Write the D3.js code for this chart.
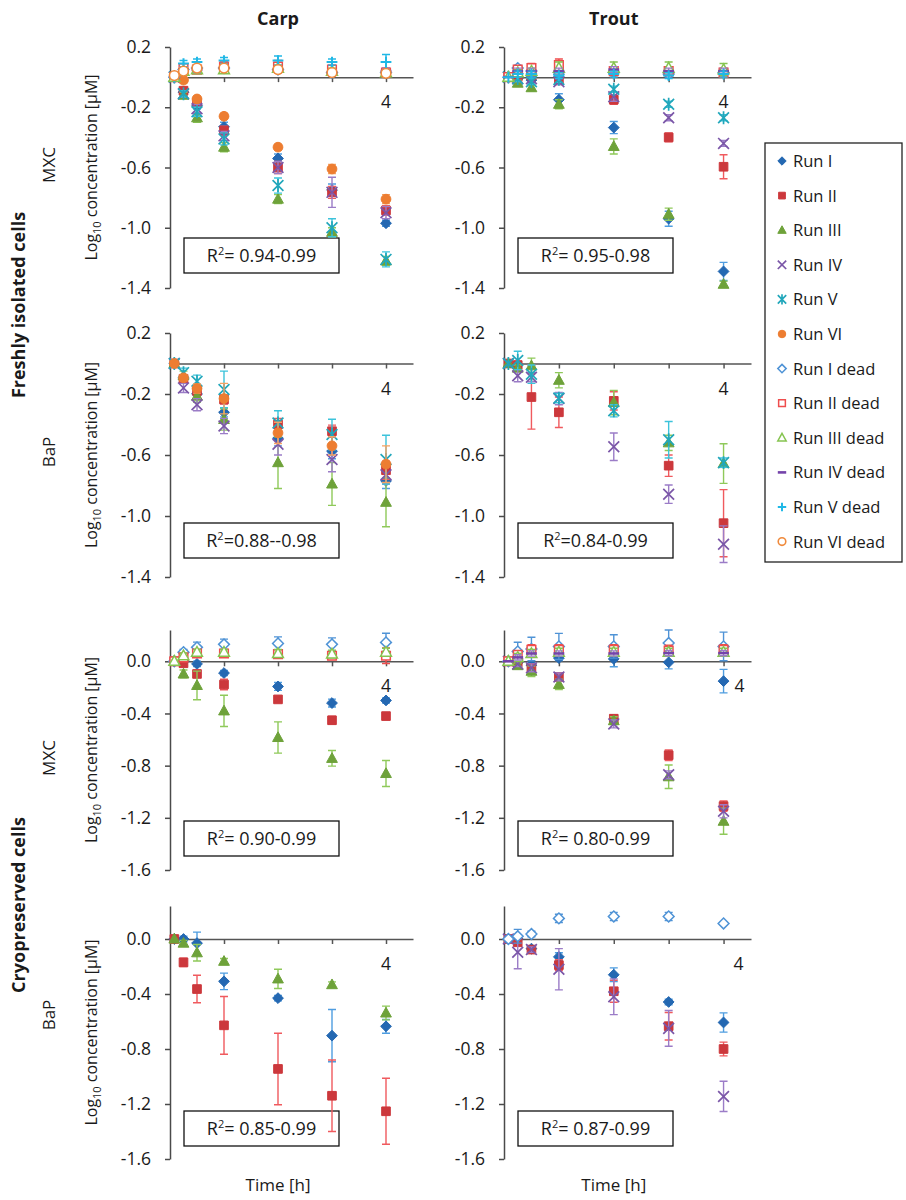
<!DOCTYPE html>
<html><head><meta charset="utf-8">
<script src="https://cdn.jsdelivr.net/npm/d3@7"></script>
<style>
body{margin:0;background:#fff;}
text{font-family:"Open Sans","DejaVu Sans",sans-serif;fill:#1a1a1a;}
</style>
</head><body>
<svg id="chart" width="906" height="1200"></svg>
<script>
// ---------------- DATA ----------------
const times = [0.08, 0.25, 0.5, 1, 2, 3, 4];
const runNames = ["Run I","Run II","Run III","Run IV","Run V","Run VI",
  "Run I dead","Run II dead","Run III dead","Run IV dead","Run V dead","Run VI dead"];
const speciesNames = ["Carp","Trout"];
const compoundNames = ["MXC","BaP","MXC","BaP"];
const cellGroups = ["Freshly isolated cells","Cryopreserved cells"];
const yTicksFresh = [0.2,-0.2,-0.6,-1.0,-1.4];
const yTicksCryo = [0.0,-0.4,-0.8,-1.2,-1.6];
const xTicks = [1,2,3,4];
const lastTimeLabel = "4";
const r2Text = [["= 0.94-0.99","= 0.95-0.98"],["=0.88--0.98","=0.84-0.99"],
                ["= 0.90-0.99","= 0.80-0.99"],["= 0.85-0.99","= 0.87-0.99"]];

// Carp, MXC, freshly isolated
const carpMxcFreshMean = {
  "Run I":[0,-0.10,-0.19,-0.33,-0.54,-0.75,-0.97],
  "Run II":[0,-0.09,-0.17,-0.355,-0.60,-0.765,-0.885],
  "Run III":[0,-0.12,-0.27,-0.465,-0.81,-1.03,-1.22],
  "Run IV":[0,-0.11,-0.21,-0.39,-0.60,-0.765,-0.90],
  "Run V":[0,-0.11,-0.23,-0.41,-0.72,-1.0,-1.21],
  "Run VI":[0,-0.02,-0.145,-0.26,-0.465,-0.61,-0.81],
  "Run I dead":[0,0.05,0.06,0.06,0.05,0.03,0.03],
  "Run II dead":[0,0.06,0.05,0.07,0.07,0.05,0.03],
  "Run III dead":[0,0.04,0.05,0.05,0.06,0.04,0.03],
  "Run IV dead":[0,0.05,0.05,0.06,0.05,0.03,0.04],
  "Run V dead":[0,0.09,0.10,0.11,0.11,0.10,0.10],
  "Run VI dead":[0.01,0.04,0.06,0.06,0.05,0.03,0.025]};
const carpMxcFreshErr = {
  "Run I":[0,0.02,0.02,0.03,0.03,0.04,0.02],
  "Run II":[0,0.02,0.03,0.03,0.04,0.04,0.03],
  "Run III":[0,0.02,0.03,0.03,0.03,0.03,0.03],
  "Run IV":[0,0.02,0.03,0.03,0.04,0.10,0.04],
  "Run V":[0,0.02,0.03,0.04,0.05,0.06,0.05],
  "Run VI":[0,0.02,0.02,0.02,0.02,0.03,0.03],
  "Run I dead":[0,0.02,0.02,0.02,0.02,0.02,0.02],
  "Run II dead":[0,0.02,0.02,0.03,0.04,0.03,0.03],
  "Run III dead":[0,0.02,0.02,0.02,0.02,0.02,0.02],
  "Run IV dead":[0,0.02,0.02,0.02,0.02,0.02,0.02],
  "Run V dead":[0,0.02,0.02,0.02,0.03,0.02,0.05],
  "Run VI dead":[0,0.02,0.02,0.02,0.02,0.02,0.02]};

// Trout, MXC, freshly isolated
const troutMxcFreshMean = {
  "Run I":[0,-0.01,-0.02,-0.15,-0.335,-0.94,-1.29],
  "Run II":[0,0.0,0.01,-0.02,-0.15,-0.40,-0.595],
  "Run III":[0,-0.04,-0.07,-0.18,-0.46,-0.91,-1.375],
  "Run IV":[0,-0.01,-0.01,-0.03,-0.13,-0.27,-0.44],
  "Run V":[0,-0.01,-0.03,-0.015,-0.08,-0.18,-0.27],
  "Run I dead":[0,0.06,0.04,0.03,0.03,0.02,0.03],
  "Run II dead":[0,0.05,0.06,0.08,0.04,0.04,0.03],
  "Run III dead":[0,0.03,0.04,0.06,0.06,0.06,0.05],
  "Run IV dead":[0,0.04,0.04,0.04,0.05,0.04,0.04],
  "Run V dead":[0,0.02,0.02,0.01,0.02,0.01,0.02]};
const troutMxcFreshErr = {
  "Run I":[0,0.02,0.02,0.04,0.04,0.05,0.06],
  "Run II":[0,0.02,0.02,0.03,0.03,0.03,0.08],
  "Run III":[0,0.02,0.02,0.03,0.05,0.04,0.02],
  "Run IV":[0,0.02,0.02,0.02,0.03,0.02,0.02],
  "Run V":[0,0.02,0.02,0.02,0.02,0.02,0.02],
  "Run I dead":[0,0.02,0.02,0.02,0.02,0.02,0.02],
  "Run II dead":[0,0.02,0.03,0.04,0.03,0.03,0.03],
  "Run III dead":[0,0.02,0.02,0.04,0.04,0.04,0.04],
  "Run IV dead":[0,0.02,0.02,0.02,0.02,0.02,0.02],
  "Run V dead":[0,0.02,0.02,0.02,0.02,0.02,0.02]};

// Carp, BaP, freshly isolated
const carpBapFreshMean = {
  "Run I":[0,-0.10,-0.20,-0.32,-0.49,-0.575,-0.77],
  "Run II":[0,-0.10,-0.18,-0.236,-0.40,-0.444,-0.70],
  "Run III":[0,-0.08,-0.214,-0.367,-0.65,-0.79,-0.91],
  "Run IV":[0,-0.16,-0.27,-0.41,-0.53,-0.63,-0.73],
  "Run V":[0,-0.06,-0.116,-0.17,-0.39,-0.466,-0.63],
  "Run VI":[0,-0.094,-0.164,-0.23,-0.455,-0.54,-0.66]};
const carpBapFreshErr = {
  "Run I":[0,0.02,0.03,0.03,0.05,0.05,0.05],
  "Run II":[0,0.02,0.03,0.03,0.04,0.04,0.06],
  "Run III":[0,0.03,0.04,0.07,0.17,0.14,0.16],
  "Run IV":[0,0.03,0.04,0.05,0.07,0.08,0.06],
  "Run V":[0,0.03,0.04,0.12,0.08,0.10,0.16],
  "Run VI":[0,0.02,0.03,0.10,0.07,0.06,0.12]};

// Trout, BaP, freshly isolated
const troutBapFreshMean = {
  "Run II":[0,-0.01,-0.22,-0.32,-0.245,-0.67,-1.047],
  "Run III":[0,-0.03,-0.015,-0.11,-0.256,-0.52,-0.656],
  "Run IV":[0,-0.08,-0.09,-0.23,-0.546,-0.857,-1.185],
  "Run V":[0,0.02,-0.07,-0.227,-0.31,-0.50,-0.65]};
const troutBapFreshErr = {
  "Run II":[0,0.02,0.21,0.10,0.06,0.07,0.22],
  "Run III":[0,0.02,0.05,0.05,0.08,0.05,0.13],
  "Run IV":[0,0.04,0.03,0.04,0.09,0.06,0.12],
  "Run V":[0,0.06,0.06,0.03,0.04,0.12,0.03]};

// Carp, MXC, cryopreserved
const carpMxcCryoMean = {
  "Run I":[0,0.0,-0.02,-0.09,-0.193,-0.32,-0.30],
  "Run II":[0,-0.015,-0.097,-0.178,-0.292,-0.452,-0.42],
  "Run III":[0,-0.097,-0.185,-0.38,-0.584,-0.744,-0.86],
  "Run I dead":[0,0.07,0.107,0.13,0.137,0.13,0.145],
  "Run II dead":[0,0.03,0.06,0.06,0.055,0.043,0.043],
  "Run III dead":[0,0.043,0.07,0.07,0.06,0.056,0.07]};
const carpMxcCryoErr = {
  "Run I":[0,0.02,0.02,0.02,0.03,0.03,0.02],
  "Run II":[0,0.02,0.02,0.04,0.02,0.03,0.02],
  "Run III":[0,0.03,0.11,0.12,0.12,0.06,0.10],
  "Run I dead":[0,0.02,0.04,0.04,0.05,0.05,0.07],
  "Run II dead":[0,0.02,0.02,0.02,0.02,0.03,0.06],
  "Run III dead":[0,0.02,0.02,0.02,0.03,0.03,0.03]};

// Trout, MXC, cryopreserved
const troutMxcCryoMean = {
  "Run I":[0,-0.01,-0.03,0.025,0.018,-0.008,-0.152],
  "Run II":[0,-0.01,-0.05,-0.12,-0.44,-0.72,-1.11],
  "Run III":[0,-0.033,-0.076,-0.177,-0.455,-0.885,-1.226],
  "Run IV":[0,-0.02,-0.05,-0.12,-0.48,-0.87,-1.15],
  "Run I dead":[0,0.076,0.094,0.114,0.114,0.14,0.114],
  "Run II dead":[0,0.05,0.088,0.088,0.088,0.083,0.088],
  "Run III dead":[0,0.03,0.06,0.07,0.07,0.07,0.07],
  "Run IV dead":[0,0.03,0.06,0.06,0.06,0.063,0.063]};
const troutMxcCryoErr = {
  "Run I":[0,0.02,0.02,0.02,0.06,0.05,0.09],
  "Run II":[0,0.02,0.03,0.03,0.03,0.04,0.04],
  "Run III":[0,0.02,0.04,0.04,0.03,0.09,0.10],
  "Run IV":[0,0.02,0.03,0.03,0.03,0.03,0.05],
  "Run I dead":[0,0.07,0.09,0.10,0.09,0.10,0.11],
  "Run II dead":[0,0.03,0.04,0.04,0.04,0.04,0.04],
  "Run III dead":[0,0.03,0.03,0.03,0.03,0.03,0.03],
  "Run IV dead":[0,0.02,0.02,0.02,0.02,0.02,0.02]};

// Carp, BaP, cryopreserved
const carpBapCryoMean = {
  "Run I":[0,0.0,-0.03,-0.308,-0.43,-0.703,-0.635],
  "Run II":[0,-0.17,-0.364,-0.628,-0.945,-1.14,-1.253],
  "Run III":[0,-0.03,-0.10,-0.162,-0.29,-0.332,-0.538]};
const carpBapCryoErr = {
  "Run I":[0,0.02,0.08,0.06,0.02,0.19,0.05],
  "Run II":[0,0.03,0.10,0.21,0.26,0.26,0.24],
  "Run III":[0,0.02,0.06,0.02,0.07,0.02,0.05]};

// Trout, BaP, cryopreserved
const troutBapCryoMean = {
  "Run I":[0,0.0,-0.07,-0.13,-0.26,-0.458,-0.607],
  "Run II":[0,-0.024,-0.077,-0.19,-0.38,-0.634,-0.80],
  "Run IV":[0,-0.096,-0.077,-0.22,-0.42,-0.65,-1.145],
  "Run I dead":[0,0.02,0.036,0.15,0.164,0.164,0.113]};
const troutBapCryoErr = {
  "Run I":[0,0.02,0.02,0.03,0.05,0.02,0.07],
  "Run II":[0,0.02,0.02,0.04,0.08,0.10,0.05],
  "Run IV":[0,0.12,0.02,0.15,0.13,0.13,0.11],
  "Run I dead":[0,0.05,0.02,0.03,0.03,0.03,0.01]};

// ---------------- STYLE / LAYOUT ----------------
const runStyle = {
  "Run I":{shape:"diamond",fill:"#2468b2",stroke:"#2468b2",err:"#4f9de0",sw:1},
  "Run II":{shape:"square",fill:"#cc383c",stroke:"#cc383c",err:"#f05a5e",sw:1},
  "Run III":{shape:"triangle",fill:"#6ea23a",stroke:"#6ea23a",err:"#8fc95a",sw:1},
  "Run IV":{shape:"x",fill:"none",stroke:"#7b57a8",err:"#9b7cc7",sw:1.7},
  "Run V":{shape:"asterisk",fill:"none",stroke:"#22a7bb",err:"#3cc3db",sw:1.7},
  "Run VI":{shape:"circle",fill:"#ed7d31",stroke:"#ed7d31",err:"#f5a263",sw:1},
  "Run I dead":{shape:"diamond",fill:"#fff",stroke:"#4f93d6",err:"#4f93d6",sw:1.5},
  "Run II dead":{shape:"square",fill:"#fff",stroke:"#ef4d4d",err:"#ef4d4d",sw:1.5},
  "Run III dead":{shape:"triangle",fill:"#fff",stroke:"#86c450",err:"#86c450",sw:1.5},
  "Run IV dead":{shape:"dash",fill:"none",stroke:"#7443aa",err:"#9b7cc7",sw:2.6},
  "Run V dead":{shape:"plus",fill:"none",stroke:"#20b8e6",err:"#20b8e6",sw:2},
  "Run VI dead":{shape:"circle",fill:"#fff",stroke:"#f08a3c",err:"#f5a263",sw:1.6}};

const colLayout = [{x0:170,x1:413},{x0:504,x1:751}];
const rowLayout = [
  {dom:[-1.4,0.2],r:[288,47],ticks:yTicksFresh,box:15,chemY:165},
  {dom:[-1.4,0.2],r:[577,333],ticks:yTicksFresh,box:19,chemY:452},
  {dom:[-1.6,0.24],r:[870,630],ticks:yTicksCryo,box:14,chemY:758},
  {dom:[-1.6,0.24],r:[1159,906],ticks:yTicksCryo,box:13,chemY:1015}];

const panels = [
  {row:0,col:0,mean:carpMxcFreshMean,err:carpMxcFreshErr},
  {row:0,col:1,mean:troutMxcFreshMean,err:troutMxcFreshErr},
  {row:1,col:0,mean:carpBapFreshMean,err:carpBapFreshErr},
  {row:1,col:1,mean:troutBapFreshMean,err:troutBapFreshErr},
  {row:2,col:0,mean:carpMxcCryoMean,err:carpMxcCryoErr},
  {row:2,col:1,mean:troutMxcCryoMean,err:troutMxcCryoErr,labelShift:16},
  {row:3,col:0,mean:carpBapCryoMean,err:carpBapCryoErr},
  {row:3,col:1,mean:troutBapCryoMean,err:troutBapCryoErr,labelShift:15}];

function markerPath(shape, s){
  switch(shape){
    case "diamond": return `M0,${-s}L${s},0L0,${s}L${-s},0Z`;
    case "square": {const h=s*0.8; return `M${-h},${-h}H${h}V${h}H${-h}Z`;}
    case "triangle": return `M0,${-s*1.05}L${s},${s*0.75}L${-s},${s*0.75}Z`;
    case "x": return `M${-s},${-s}L${s},${s}M${-s},${s}L${s},${-s}`;
    case "asterisk": return `M${-s},${-s}L${s},${s}M${-s},${s}L${s},${-s}M0,${-s*1.2}L0,${s*1.2}`;
    case "circle": {const c=s*0.9; return `M${c},0A${c},${c} 0 1,1 ${-c},0A${c},${c} 0 1,1 ${c},0Z`;}
    case "dash": return `M${-s},0H${s}`;
    case "plus": return `M${-s},0H${s}M0,${-s}V${s}`;
  }
}

const svg = d3.select("#chart");
const axisColor = "#4a4a4a";
const fmt = d => (Math.abs(d) < 1e-9 ? 0 : d).toFixed(1);

panels.forEach(p => {
  const C = colLayout[p.col], R = rowLayout[p.row];
  const x = d3.scaleLinear().domain([0,4.5]).range([C.x0,C.x1]);
  const y = d3.scaleLinear().domain(R.dom).range(R.r);
  const g = svg.append("g");

  // y axis
  const ya = g.append("g").attr("transform",`translate(${C.x0},0)`)
    .call(d3.axisLeft(y).tickValues(R.ticks).tickFormat(fmt).tickSize(5).tickSizeOuter(0).tickPadding(14));
  ya.select(".domain").attr("stroke",axisColor).attr("stroke-width",1.5);
  ya.selectAll(".tick line").attr("stroke",axisColor).attr("stroke-width",1.5);
  ya.selectAll(".tick text").attr("font-size",17.5).attr("font-family","Open Sans").attr("fill","#1a1a1a");

  // x axis at y = 0
  const xa = g.append("g").attr("transform",`translate(0,${y(0)})`)
    .call(d3.axisBottom(x).tickValues(xTicks).tickFormat("").tickSize(5).tickSizeOuter(0));
  xa.select(".domain").attr("stroke","#555").attr("stroke-width",1.5);
  xa.selectAll(".tick line").attr("stroke","#555").attr("stroke-width",1.5);

  // "4" label
  g.append("text").attr("x",x(4)+(p.labelShift||0)).attr("y",y(0)+31)
    .attr("text-anchor","middle").attr("font-size",17.5).text(lastTimeLabel);

  // R² box
  const bx = C.x0+14, bw = 155, bh = 35, bBottom = R.r[0]-R.box;
  g.append("rect").attr("x",bx).attr("y",bBottom-bh).attr("width",bw).attr("height",bh)
    .attr("fill","#fff").attr("stroke","#111").attr("stroke-width",1.3);
  const t = g.append("text").attr("x",bx+bw/2).attr("y",bBottom-bh/2+6.5)
    .attr("text-anchor","middle").attr("font-size",18);
  t.append("tspan").text("R");
  t.append("tspan").attr("font-size",11).attr("dy",-7).text("2");
  t.append("tspan").attr("dy",7).text(r2Text[p.row][p.col]);

  // series
  runNames.forEach(name => {
    const m = p.mean[name]; if(!m) return;
    const e = p.err[name], st = runStyle[name];
    const sg = g.append("g");
    m.forEach((v,i) => {
      const er = e[i];
      if(er > 0){
        const cx = x(times[i]), y1 = y(v+er), y2 = y(v-er);
        sg.append("path").attr("d",`M${cx},${y1}V${y2}M${cx-4},${y1}H${cx+4}M${cx-4},${y2}H${cx+4}`)
          .attr("stroke",st.err).attr("stroke-width",1.4).attr("fill","none");
      }
    });
    sg.selectAll("path.mk").data(m).enter().append("path").attr("class","mk")
      .attr("transform",(v,i)=>`translate(${x(times[i])},${y(v)})`)
      .attr("d",markerPath(st.shape,5.4))
      .attr("fill",st.fill).attr("stroke",st.stroke).attr("stroke-width",st.sw);
  });

  // y-axis title and compound
  const yc = (R.r[0]+R.r[1])/2;
  if(p.col===0){
    const lt = svg.append("text").attr("transform",`translate(97,${yc}) rotate(-90)`)
      .attr("text-anchor","middle").attr("font-size",16);
    lt.append("tspan").text("Log");
    lt.append("tspan").attr("font-size",11).attr("dy",4).text("10");
    lt.append("tspan").attr("dy",-4).text(" concentration [µM]");
    svg.append("text").attr("transform",`translate(55,${R.chemY}) rotate(-90)`)
      .attr("text-anchor","middle").attr("font-size",17).text(compoundNames[p.row]);
  }

  // column titles and x titles
  if(p.row===0) svg.append("text").attr("x",x(2)).attr("y",25).attr("text-anchor","middle")
    .attr("font-size",18).attr("font-weight","bold").text(speciesNames[p.col]);
  if(p.row===3) svg.append("text").attr("x",x(2)).attr("y",1191).attr("text-anchor","middle")
    .attr("font-size",17).text("Time [h]");
});

// group labels
svg.append("text").attr("transform","translate(25,305) rotate(-90)").attr("text-anchor","middle")
  .attr("font-size",18).attr("font-weight","bold").text(cellGroups[0]);
svg.append("text").attr("transform","translate(25,905) rotate(-90)").attr("text-anchor","middle")
  .attr("font-size",18).attr("font-weight","bold").text(cellGroups[1]);

// legend
const lg = svg.append("g");
lg.append("rect").attr("x",765).attr("y",143).attr("width",137).attr("height",419)
  .attr("fill","#fff").attr("stroke","#222").attr("stroke-width",1.3);
runNames.forEach((name,i) => {
  const st = runStyle[name], ly = 161 + i*34.6;
  lg.append("path").attr("transform",`translate(782,${ly})`).attr("d",markerPath(st.shape,4.2))
    .attr("fill",st.fill).attr("stroke",st.stroke).attr("stroke-width",st.sw);
  lg.append("text").attr("x",793).attr("y",ly+6).attr("font-size",16.5).text(name);
});
</script>
</body></html>
